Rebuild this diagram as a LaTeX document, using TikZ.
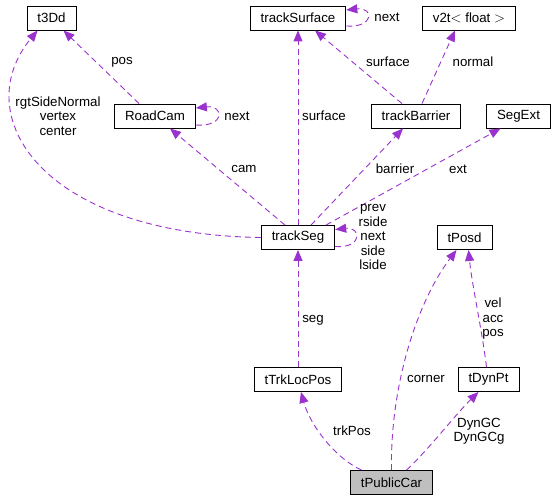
\documentclass[tikz,border=0pt]{standalone}
\usepackage{fontspec}
\setmainfont{Liberation Sans}
\usetikzlibrary{arrows.meta}
\definecolor{myorchid}{RGB}{154,50,205}
\definecolor{mygray}{RGB}{191,191,191}

\begin{document}
\begin{tikzpicture}[x=1pt, y=-1pt,
    cls/.style={draw=black, line width=0.9pt, fill=white, minimum height=24pt,
        inner xsep=10.5pt, inner ysep=0pt, font=\fontsize{13.3}{14.5}\selectfont},
    dep/.style={draw=myorchid, line width=0.9pt, dash pattern=on 6pt off 4pt,
        -{Triangle[length=11pt, width=9pt]}},
    lbl/.style={font=\fontsize{13.3}{14.5}\selectfont, align=center, inner sep=0pt}]

    \useasboundingbox (0,0) rectangle (556,503);

    % Classes
    \node[cls] (t3Dd) at (51.5, 18) {t3Dd};
    \node[cls] (trackSurface) at (298, 18) {trackSurface};
    \node[cls] (v2t) at (469, 18) {v2t$<$ float $>$};
    \node[cls] (RoadCam) at (155, 116) {RoadCam};
    \node[cls] (trackBarrier) at (416, 116) {trackBarrier};
    \node[cls] (SegExt) at (518.5, 116) {SegExt};
    \node[cls] (trackSeg) at (298, 237.5) {trackSeg};
    \node[cls] (tPosd) at (464.5, 237.5) {tPosd};
    \node[cls] (tTrkLocPos) at (298, 379.5) {tTrkLocPos};
    \node[cls] (tDynPt) at (488.5, 379.5) {tDynPt};
    \node[cls, fill=mygray] (tPublicCar) at (391.5, 482.5) {tPublicCar};

    % Self references
    \draw[dep] ([yshift=-8pt]trackSurface.east) .. controls +(28,2) and +(28,-3) .. ([yshift=8pt]trackSurface.east);
    \draw[dep] ([yshift=-9pt]RoadCam.east) .. controls +(30,2) and +(28,-3) .. ([yshift=8pt]RoadCam.east);
    \draw[dep] ([yshift=-9pt]trackSeg.east) .. controls +(28,2) and +(26,-3) .. ([yshift=8pt]trackSeg.east);

    % Members
    \draw[dep] ([xshift=-14pt]trackBarrier.north) -- ([xshift=17pt]trackSurface.south);
    \draw[dep] ([xshift=6pt]trackBarrier.north) -- ([xshift=-14pt]v2t.south);
    \draw[dep] ([xshift=-16pt]RoadCam.north) -- ([xshift=12pt]t3Dd.south);
    \draw[dep] (trackSeg.west) .. controls (40,234) and (-32,115) .. ([xshift=-14pt]t3Dd.south);
    \draw[dep] ([xshift=-13pt]trackSeg.north) -- ([xshift=15pt]RoadCam.south);
    \draw[dep] (trackSeg.north) -- (trackSurface.south);
    \draw[dep] ([xshift=13pt]trackSeg.north) -- ([xshift=-13pt]trackBarrier.south);
    \draw[dep] ([xshift=28pt]trackSeg.north) -- ([xshift=-18pt]SegExt.south);
    \draw[dep] (tTrkLocPos.north) -- (trackSeg.south);
    \draw[dep] ([xshift=-30pt]tPublicCar.north) .. controls (335,458) and (310,425) .. ([xshift=3pt]tTrkLocPos.south);
    \draw[dep] (tPublicCar.north) .. controls (390,390) and (415,305) .. ([xshift=-8pt]tPosd.south);
    \draw[dep] ([xshift=-2pt]tDynPt.north) .. controls (482,330) and (472,285) .. ([xshift=4pt]tPosd.south);
    \draw[dep] ([xshift=15pt]tPublicCar.north) .. controls (430,448) and (455,415) .. ([xshift=-10pt]tDynPt.south);

    % Labels
    \node[lbl] (lNextSurf) at (387, 17) {next};
    \node[lbl] (lSurfBar) at (388, 62) {surface};
    \node[lbl] (lNormal) at (473, 62) {normal};
    \node[lbl] (lPos) at (122, 62) {pos};
    \node[lbl] (lNextCam) at (237, 116) {next};
    \node[lbl] (lCorner3d) at (58, 116) {rgtSideNormal\\vertex\\center};
    \node[lbl] (lSurfSeg) at (324, 116) {surface};
    \node[lbl] (lCam) at (244, 169) {cam};
    \node[lbl] (lBarrier) at (395, 169) {barrier};
    \node[lbl] (lExt) at (458, 169) {ext};
    \node[lbl] (lLinks) at (373, 237) {prev\\rside\\next\\side\\lside};
    \node[lbl] (lSeg) at (313, 320) {seg};
    \node[lbl] (lVel) at (493, 319) {vel\\acc\\pos};
    \node[lbl] (lCorner) at (426, 379) {corner};
    \node[lbl] (lTrkPos) at (352, 431) {trkPos};
    \node[lbl] (lDynGC) at (479, 431) {DynGC\\DynGCg};
\end{tikzpicture}
\end{document}
